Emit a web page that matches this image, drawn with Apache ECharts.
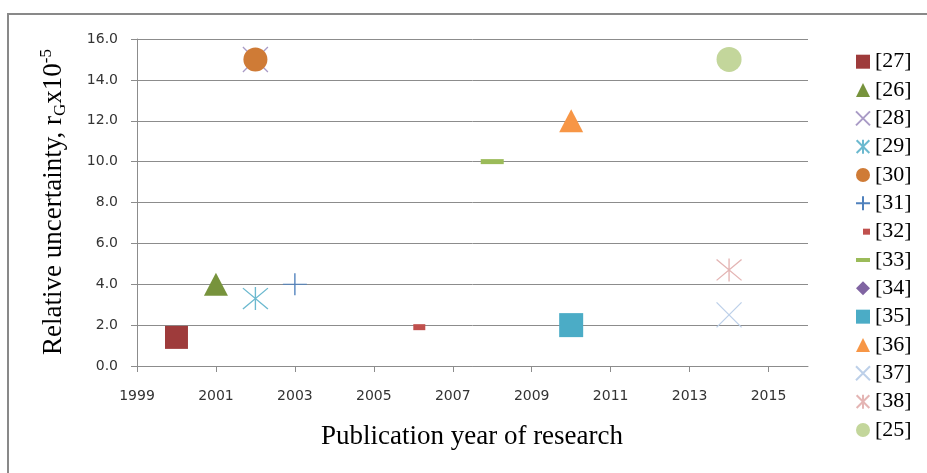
<!DOCTYPE html>
<html>
<head>
<meta charset="utf-8">
<script src="https://cdn.jsdelivr.net/npm/echarts@6/dist/echarts.min.js"></script>
<style>
html,body{margin:0;padding:0;background:#fff;}
#chart{width:927px;height:473px;}
</style>
</head>
<body>
<div id="chart"></div>
<script>
// ---- data ----
const seriesNames = ['[27]','[26]','[28]','[29]','[30]','[31]','[32]','[33]','[34]','[35]','[36]','[37]','[38]','[25]'];
const years       = [2000, 2001, 2002, 2002, 2002, 2003, 2006, 2008, null, 2010, 2010, 2014, 2014, 2014];
const uncertainty = [1.4,  4.0,  15.0, 3.3,  15.0, 4.0,  1.9,  10.0, null, 2.0,  12.0, 2.5,  4.7,  15.0];
const yearStart = 1999;
const yearEnd = 2016;
const yearStep = 2;
const yMin = 0, yMax = 16, yStep = 2;

// ---- styles ----
const X_PATH = 'path://M0,0L10,10M10,0L0,10';
const STAR_PATH = 'path://M0,0L10,10M10,0L0,10M5,-0.5L5,10.5';
const PLUS_PATH = 'path://M0,5L10,5M5,0L5,10';
const markerSymbols = ['rect','triangle',X_PATH,STAR_PATH,'circle',PLUS_PATH,'rect','rect','diamond','rect','triangle',X_PATH,STAR_PATH,'circle'];
const markerSizes = [23,[24,23],25,[25,23],24,[24,22],[12,6],[23,5],14,24,[24,23],25,[25,23],25];
const markerOffsets = [[0,0],[0,0],[0,0],[0,0],[0,0],[0,0],[6,0],[0,0],[0,0],[0,0],[0,0],[0,0],[0,0],[0,0]];
const markerColors = ['#9E3B3B','#77933C','#A99BC6','#6CB9CF','#CF7B36','#4F81BD','#C0504D','#9BBB59','#8064A2','#4BACC6','#F79646','#BDD0E9','#E4B5B4','#C3D69B'];
const strokeOnly = [false,false,true,true,false,true,false,false,false,false,false,true,true,false];
const legendIcons = ['rect','triangle',X_PATH,STAR_PATH,'circle',PLUS_PATH,
  'path://M0,0M14,14M7,4h7v6h-7z','path://M0,0M14,14M0,5h14v4h-14z',
  'diamond','rect','triangle',X_PATH,STAR_PATH,'circle'];

const series = seriesNames.map((name, i) => ({
  name: name,
  type: 'scatter',
  data: years[i] == null ? [] : [[years[i] - yearStart, uncertainty[i]]],
  symbol: markerSymbols[i],
  symbolSize: markerSizes[i],
  symbolOffset: markerOffsets[i],
  z: 2 + i,
  itemStyle: strokeOnly[i]
    ? { color: 'rgba(0,0,0,0)', borderColor: markerColors[i], borderWidth: 1.3, opacity: 1 }
    : { color: markerColors[i], opacity: 1 },
  emphasis: { disabled: true }
}));

const chart = echarts.init(document.getElementById('chart'), null, { renderer: 'canvas' });
chart.setOption({
  animation: false,
  backgroundColor: '#ffffff',
  grid: { left: 137, right: 119, top: 39, bottom: 107, containLabel: false, outerBoundsMode: 'none' },
  xAxis: {
    type: 'value',
    min: 0,
    max: yearEnd - yearStart,
    interval: yearStep,
    splitLine: { show: false },
    axisLine: { show: true, lineStyle: { color: '#8c8c8c', width: 1 } },
    axisTick: { show: true, inside: false, length: 6, lineStyle: { color: '#8c8c8c' } },
    axisLabel: {
      margin: 23,
      color: '#333',
      fontFamily: 'DejaVu Sans',
      fontSize: 14,
      showMaxLabel: false,
      formatter: v => String(v + yearStart)
    }
  },
  yAxis: {
    type: 'value',
    min: yMin,
    max: yMax,
    interval: yStep,
    splitLine: { show: true, lineStyle: { color: '#8c8c8c', width: 1 } },
    axisLine: { show: true, lineStyle: { color: '#8c8c8c', width: 1 } },
    axisTick: { show: true, inside: false, length: 6, lineStyle: { color: '#8c8c8c' } },
    axisLabel: {
      margin: 19,
      color: '#333',
      fontFamily: 'DejaVu Sans',
      fontSize: 14,
      formatter: v => v.toFixed(1)
    }
  },
  legend: {
    orient: 'vertical',
    left: 855,
    top: 50.7,
    padding: 0,
    itemWidth: 14,
    itemHeight: 14,
    itemGap: 6.33,
    selectedMode: false,
    textStyle: { fontFamily: 'Liberation Serif', fontSize: 22, lineHeight: 22, color: '#000' },
    data: seriesNames.map((n, i) => ({ name: n, icon: legendIcons[i] }))
  },
  graphic: [
    {
      type: 'rect',
      shape: { x: 8, y: 14, width: 1200, height: 1200 },
      style: { fill: 'none', stroke: '#898989', lineWidth: 2 },
      silent: true, z: -10
    },
    {
      type: 'text',
      x: 54, y: 202,
      rotation: Math.PI / 2,
      style: {
        text: '{a|Relative uncertainty, r}{s|G}{a|x10}{p|-5}',
        align: 'center',
        verticalAlign: 'middle',
        fill: '#000',
        rich: {
          a: { fontFamily: 'Liberation Serif', fontSize: 27, fill: '#000' },
          s: { fontFamily: 'Liberation Serif', fontSize: 17, fill: '#000', padding: [13, 0, 0, 0] },
          p: { fontFamily: 'Liberation Serif', fontSize: 17, fill: '#000', padding: [0, 0, 14, 0] }
        }
      },
      silent: true
    },
    {
      type: 'text',
      x: 472, y: 437,
      style: {
        text: 'Publication year of research',
        align: 'center',
        verticalAlign: 'middle',
        fontFamily: 'Liberation Serif',
        fontSize: 27,
        fill: '#000'
      },
      silent: true
    }
  ],
  series: series
});
</script>
</body>
</html>
